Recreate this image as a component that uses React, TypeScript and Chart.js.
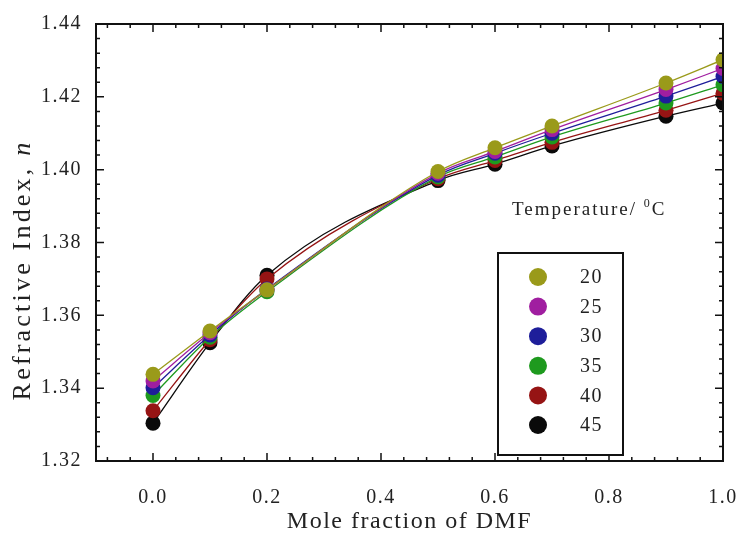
import React, { useEffect, useRef } from "react";
import { Chart, registerables } from "chart.js";

Chart.register(...registerables);

const xValues = [0, 0.1, 0.2, 0.5, 0.6, 0.7, 0.9, 1.0];
const temperatures = ["20", "25", "30", "35", "40", "45"];
const n20 = [1.3438, 1.3557, 1.367, 1.3995, 1.406, 1.412, 1.4238, 1.4302];
const n25 = [1.342, 1.3552, 1.367, 1.399, 1.405, 1.411, 1.422, 1.4278];
const n30 = [1.3401, 1.3546, 1.3672, 1.3985, 1.4045, 1.41, 1.4202, 1.4256];
const n35 = [1.338, 1.354, 1.3665, 1.398, 1.4035, 1.409, 1.4183, 1.4233];
const n40 = [1.3338, 1.3533, 1.37, 1.3975, 1.4025, 1.4075, 1.4163, 1.421];
const n45 = [1.3304, 1.3525, 1.371, 1.397, 1.4015, 1.4065, 1.4147, 1.4183];
const seriesValues = [n20, n25, n30, n35, n40, n45];
const seriesColors = ["#9a9a1a", "#a01ea0", "#1e1e9a", "#1e9a1e", "#961414", "#0a0a0a"];
const xTickValues = [0, 0.2, 0.4, 0.6, 0.8, 1.0];
const yTickValues = [1.32, 1.34, 1.36, 1.38, 1.4, 1.42, 1.44];

const FONT = "'Liberation Serif', 'Times New Roman', serif";
const TEXT = "#222";

const framePlugin = {
  id: "frame",
  beforeDraw(chart: any) {
    chart.ctx.letterSpacing = "1.5px";
  },
  afterDraw(chart: any) {
    const ctx = chart.ctx;
    const { left, right, top, bottom } = chart.chartArea;
    const xs = chart.scales.x;
    const ys = chart.scales.y;
    ctx.save();
    ctx.strokeStyle = "#111";
    ctx.lineWidth = 2;
    ctx.strokeRect(left, top, right - left, bottom - top);
    ctx.lineWidth = 1.5;
    ctx.beginPath();
    for (let i = -2; i <= 25; i++) {
      const px = xs.getPixelForValue(i * 0.04);
      if (px < left + 1 || px > right - 1) continue;
      const len = i % 5 === 0 ? 8 : 4;
      ctx.moveTo(px, bottom);
      ctx.lineTo(px, bottom - len);
      ctx.moveTo(px, top);
      ctx.lineTo(px, top + len);
    }
    for (let i = 0; i <= 30; i++) {
      const py = ys.getPixelForValue(1.32 + i * 0.004);
      if (py < top + 1 || py > bottom - 1) continue;
      const len = i % 5 === 0 ? 8 : 4;
      ctx.moveTo(left, py);
      ctx.lineTo(left + len, py);
      ctx.moveTo(right, py);
      ctx.lineTo(right - len, py);
    }
    ctx.stroke();

    // Y axis title
    ctx.fillStyle = TEXT;
    ctx.letterSpacing = "3.2px";
    ctx.textBaseline = "middle";
    ctx.textAlign = "left";
    const fNormal = `26px ${FONT}`;
    const fItalic = `italic 26px ${FONT}`;
    ctx.font = fNormal;
    const t1 = "Refractive Index, ";
    const w1 = ctx.measureText(t1).width;
    ctx.font = fItalic;
    const w2 = ctx.measureText("n").width;
    ctx.save();
    ctx.translate(23, 270);
    ctx.rotate(-Math.PI / 2);
    const sx = -(w1 + w2) / 2;
    ctx.font = fNormal;
    ctx.fillText(t1, sx, 0);
    ctx.font = fItalic;
    ctx.fillText("n", sx + w1, 0);
    ctx.restore();

    // X axis title
    ctx.letterSpacing = "1.5px";
    ctx.font = `24px ${FONT}`;
    ctx.textAlign = "center";
    ctx.fillText("Mole fraction of DMF", (left + right) / 2, 522);

    // Temperature label
    ctx.letterSpacing = "2px";
    ctx.textAlign = "left";
    ctx.font = `19px ${FONT}`;
    const tx = 512;
    const ty = 210;
    const p1 = "Temperature/ ";
    ctx.fillText(p1, tx, ty);
    let cx = tx + ctx.measureText(p1).width;
    ctx.font = `12px ${FONT}`;
    ctx.fillText("0", cx, ty - 6);
    cx += ctx.measureText("0").width;
    ctx.font = `19px ${FONT}`;
    ctx.fillText("C", cx, ty);

    // Legend box
    const bx = 498, by = 253, bw = 125, bh = 202;
    ctx.fillStyle = "#fff";
    ctx.fillRect(bx, by, bw, bh);
    ctx.strokeStyle = "#111";
    ctx.lineWidth = 2;
    ctx.strokeRect(bx, by, bw, bh);
    ctx.font = `20px ${FONT}`;
    ctx.letterSpacing = "1.5px";
    chart.data.datasets.forEach((ds: any, i: number) => {
      const yy = by + 24 + i * 29.6;
      ctx.beginPath();
      ctx.fillStyle = ds.backgroundColor;
      ctx.arc(bx + 40, yy, 9, 0, Math.PI * 2);
      ctx.fill();
      ctx.fillStyle = TEXT;
      ctx.fillText(ds.label, bx + 82, yy + 1);
    });
    ctx.restore();
  },
};

export default function App() {
  const ref = useRef<HTMLCanvasElement>(null);
  useEffect(() => {
    if (!ref.current) return;
    const chart = new Chart(ref.current, {
      type: "line",
      data: {
        datasets: temperatures.map((t, i) => ({
          label: t,
          data: xValues.map((x, j) => ({ x, y: seriesValues[i][j] })),
          borderColor: seriesColors[i],
          backgroundColor: seriesColors[i],
          pointBackgroundColor: seriesColors[i],
          pointBorderColor: seriesColors[i],
          borderWidth: 1.3,
          pointRadius: 7.5,
          pointBorderWidth: 0,
          cubicInterpolationMode: "monotone" as const,
        })),
      },
      options: {
        responsive: false,
        animation: false,
        layout: { padding: { top: 24, right: 16, left: 0, bottom: 0 } },
        plugins: { legend: { display: false }, tooltip: { enabled: false } },
        scales: {
          x: {
            type: "linear",
            min: -0.1,
            max: 1.0,
            grid: { display: false, drawTicks: false },
            border: { display: false },
            afterBuildTicks: (s: any) => {
              s.ticks = xTickValues.map((v) => ({ value: v }));
            },
            afterFit: (s: any) => {
              s.height = 75;
              s.paddingLeft = 0;
              s.paddingRight = 0;
            },
            ticks: {
              padding: 25,
              color: TEXT,
              font: { family: FONT, size: 20 },
              callback: (v: any) => Number(v).toFixed(1),
              maxRotation: 0,
            },
          },
          y: {
            type: "linear",
            min: 1.32,
            max: 1.44,
            grid: { display: false, drawTicks: false },
            border: { display: false },
            afterBuildTicks: (s: any) => {
              s.ticks = yTickValues.map((v) => ({ value: v }));
            },
            afterFit: (s: any) => {
              s.width = 96;
              s.paddingTop = 0;
              s.paddingBottom = 0;
            },
            ticks: {
              padding: 14,
              color: TEXT,
              font: { family: FONT, size: 20 },
              callback: (v: any) => Number(v).toFixed(2),
            },
          },
        },
      },
      plugins: [framePlugin],
    });
    return () => chart.destroy();
  }, []);
  return (
    <div style={{ position: "fixed", left: 0, top: 0, width: 739, height: 536 }}>
      <canvas ref={ref} width={739} height={536} />
    </div>
  );
}
